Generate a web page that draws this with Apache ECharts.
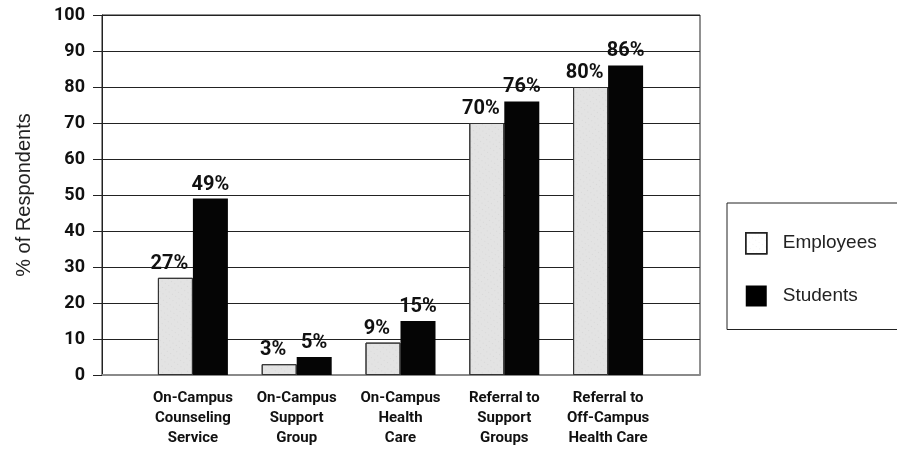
<!DOCTYPE html>
<html>
<head>
<meta charset="utf-8">
<script src="https://cdn.jsdelivr.net/npm/echarts@6/dist/echarts.min.js"></script>
<style>
  html, body { margin: 0; padding: 0; background: #fff; }
  #chart { width: 897px; height: 449px; }
</style>
</head>
<body>
<div id="chart"></div>
<script>
// data
const categories = [
  "On-Campus\nCounseling\nService",
  "On-Campus\nSupport\nGroup",
  "On-Campus\nHealth\nCare",
  "Referral to\nSupport\nGroups",
  "Referral to\nOff-Campus\nHealth Care",
];
const employees = [27, 3, 9, 70, 80];
const students = [49, 5, 15, 76, 86];
const yTicks = [0, 10, 20, 30, 40, 50, 60, 70, 80, 90, 100];

const narrow = "Roboto, 'Liberation Sans', sans-serif";
const plain = "'Liberation Sans', Arial, sans-serif";

const chart = echarts.init(document.getElementById("chart"), null, { renderer: "canvas" });

const option = {
  backgroundColor: "#fff",
  animation: false,
  // grid 0 = the framed plot area, grid 1 = where the bars sit
  grid: [
    { left: 102, right: 197, top: 15, bottom: 74, show: true, borderColor: "#222", borderWidth: 1 },
    { left: 141, right: 237, top: 15, bottom: 74 },
  ],
  xAxis: [
    {
      gridIndex: 0,
      type: "value",
      min: 0,
      max: 1,
      axisLine: { show: true, lineStyle: { color: "#8a8a8a", width: 2 } },
      axisTick: { show: false },
      axisLabel: { show: false },
      splitLine: { show: false },
    },
    {
      gridIndex: 1,
      type: "category",
      data: categories,
      axisLine: { show: false },
      axisTick: { show: false },
      axisLabel: {
        margin: 13,
        color: "#111",
        fontFamily: narrow,
        fontWeight: "bold",
        fontSize: 15,
        lineHeight: 20,
        interval: 0,
      },
    },
  ],
  yAxis: [
    {
      gridIndex: 0,
      type: "value",
      min: yTicks[0],
      max: yTicks[yTicks.length - 1],
      interval: 10,
      name: "% of Respondents",
      nameLocation: "middle",
      nameGap: 68,
      nameTextStyle: { fontFamily: plain, fontSize: 20, color: "#222" },
      axisLine: { show: true, lineStyle: { color: "#222", width: 1 } },
      axisTick: { show: true, inside: false, length: 9, lineStyle: { color: "#222" } },
      axisLabel: {
        margin: 17,
        color: "#111",
        fontFamily: narrow,
        fontWeight: "bold",
        fontSize: 18,
      },
      splitLine: { show: true, lineStyle: { color: "#222", width: 1 } },
    },
    {
      gridIndex: 1,
      type: "value",
      min: 0,
      max: 100,
      show: false,
    },
  ],
  legend: {
    orient: "vertical",
    left: 727,
    top: 203,
    padding: [29, 60, 23, 18],
    itemWidth: 21,
    itemHeight: 21,
    itemGap: 31,
    borderColor: "#222",
    borderWidth: 1,
    textStyle: { fontFamily: plain, fontSize: 19, color: "#222", padding: [0, 0, 0, 11] },
    data: [
      { name: "Employees", icon: "rect", itemStyle: { color: "#fff", borderColor: "#222", borderWidth: 1.5 } },
      { name: "Students", icon: "rect", itemStyle: { color: "#000" } },
    ],
  },
  series: [
    {
      name: "Employees",
      type: "bar",
      xAxisIndex: 1,
      yAxisIndex: 1,
      data: employees,
      barWidth: 35,
      barGap: "0%",
      itemStyle: {
        color: "#e3e3e3",
        borderColor: "#333",
        borderWidth: 1,
        decal: {
          symbol: "rect",
          symbolSize: 0.5,
          color: "rgba(0,0,0,0.2)",
          dashArrayX: [1, 3],
          dashArrayY: [1, 4],
          rotation: 0.6,
        },
      },
      label: {
        show: true,
        position: "top",
        distance: 4,
        offset: [-6, 0],
        formatter: "{c}%",
        color: "#111",
        fontFamily: narrow,
        fontWeight: "bold",
        fontSize: 20,
      },
    },
    {
      name: "Students",
      type: "bar",
      xAxisIndex: 1,
      yAxisIndex: 1,
      data: students,
      barWidth: 35,
      barGap: "0%",
      itemStyle: { color: "#050505" },
      label: {
        show: true,
        position: "top",
        distance: 4,
        formatter: "{c}%",
        color: "#111",
        fontFamily: narrow,
        fontWeight: "bold",
        fontSize: 20,
      },
    },
  ],
};

chart.setOption(option);
</script>
</body>
</html>
